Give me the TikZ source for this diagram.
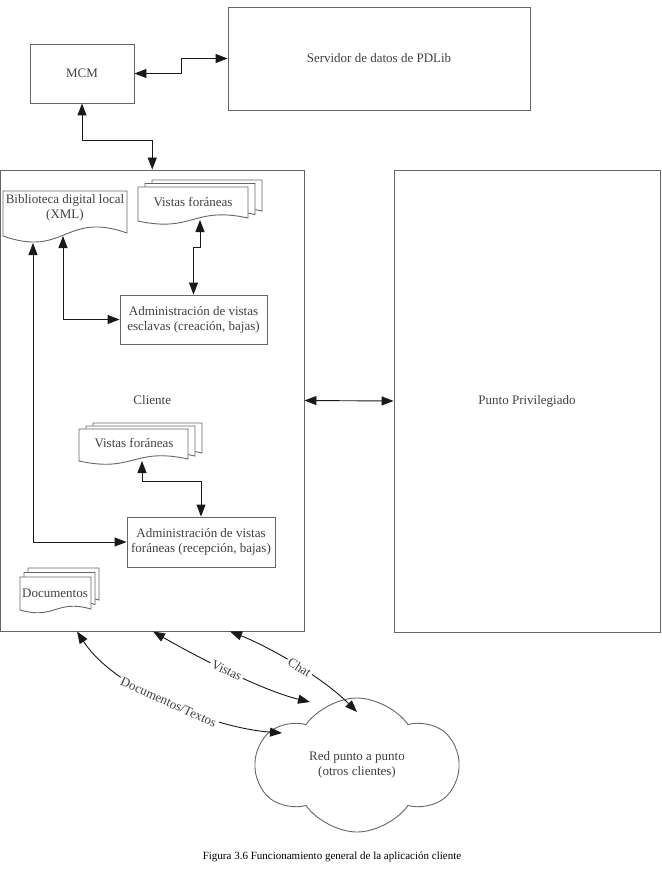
\documentclass[tikz,border=0pt]{standalone}
\usepackage{fontspec}
\setmainfont{Liberation Serif}
\usetikzlibrary{arrows.meta,shapes.symbols,calc}
\newcommand\dtext{\fontsize{13}{15}\selectfont}
\newcommand\docsheet[6]{\path[sheet] (#1,#2) -- (#3,#2) -- (#3,#5) .. controls ({(#1+#3)/2},{#5-#6}) and ({(#1+#3)/2},{#4+#6}) .. (#1,#4) -- cycle;}
\tikzset{
 box/.style={draw=black!60, line width=0.9pt, fill=white, inner sep=0pt, text=black!75, font=\dtext, align=center},
 sheet/.style={draw=black!60, line width=0.9pt, fill=white},
 lbl/.style={text=black!75, font=\dtext, align=center, inner sep=0pt},
 arrlbl/.style={text=black!75, font=\dtext, inner sep=2pt, fill=white, sloped},
 conn/.style={draw=black!90, line width=0.9pt, {Triangle[length=12pt,width=9pt]}-{Triangle[length=12pt,width=9pt]}},
}
\begin{document}
\begin{tikzpicture}[x=1pt,y=-1pt]
\useasboundingbox[fill=white] (0,0) rectangle (661,869);
% main boxes
\node[box, minimum width=302pt, minimum height=103pt] (servidor) at (379,58.5) {Servidor de datos de PDLib};
\node[box, minimum width=104pt, minimum height=59pt] (mcm) at (82,73.5) {MCM};
\node[box, minimum width=303.5pt, minimum height=461pt] (cliente) at (152.25,400.5) {Cliente};
\node[box, minimum width=266pt, minimum height=462pt] (pp) at (527,401) {Punto Privilegiado};
% document sheets
\docsheet{3}{191}{127}{236}{233}{22}
\docsheet{152}{180}{262}{214}{211}{12}
\docsheet{145}{183.5}{255}{217.5}{214.5}{12}
\docsheet{138}{187}{248}{221}{218}{12}
\docsheet{93}{423}{202}{455}{453}{12}
\docsheet{86}{426}{195}{458}{456}{12}
\docsheet{79}{429}{188}{461}{459}{12}
\docsheet{28}{568}{99}{601}{600}{10}
\docsheet{24}{572.5}{95}{605.5}{604.5}{10}
\docsheet{20}{577}{91}{610}{609}{10}
\node[lbl] (bib) at (65,208) {Biblioteca digital local\\(XML)};
\node[lbl] (vistasA) at (193,202) {Vistas foráneas};
\node[lbl] (vistasB) at (134,443) {Vistas foráneas};
\node[lbl] (docs) at (55,593) {Documentos};
% admin boxes
\node[box, minimum width=147pt, minimum height=49pt] (adminE) at (193.5,319.5) {Administración de vistas\\esclavas (creación, bajas)};
\node[box, minimum width=148pt, minimum height=50pt] (adminF) at (201,542) {Administración de vistas\\foráneas (recepción, bajas)};
% cloud
\node[draw=black!60, line width=0.9pt, fill=white, cloud, cloud puffs=6, cloud puff arc=110, aspect=1.5, minimum width=201pt, minimum height=134pt, inner sep=0pt, text=black!75, font=\dtext, align=center] (red) at (357,765) {Red punto a punto\\(otros clientes)};
% attachment points
\coordinate (bibA) at (33,243);
\coordinate (bibB) at (63,236);
\coordinate (vtb) at (200,220);
\coordinate (vlb) at (142,461);
\coordinate (rdoc) at (282,733);
\coordinate (rvis) at (310,702);
\coordinate (rchat) at (357,712);
% connectors
\draw[conn] (mcm.east) -- ++(47,0) |- (servidor.west);
\draw[conn] (mcm.south) -- ++(0,37) -| (cliente.north);
\draw[conn] (cliente.east) -- (pp.west);
\draw[conn] (vtb) -- ++(0,27) -| (adminE.north);
\draw[conn] (bibB) |- (adminE.west);
\draw[conn] (bibA) |- (adminF.west);
\draw[conn] (vlb) -- ++(0,20) -| (adminF.north);
\draw[conn] ($(cliente.south west)+(77,0)$) .. controls (115,690) and (215,728) .. (rdoc) node[arrlbl, pos=0.5] {Documentos/Textos};
\draw[conn] ($(cliente.south west)+(153,0)$) .. controls (190,653) and (260,690) .. (rvis) node[arrlbl, pos=0.5] {Vistas};
\draw[conn] ($(cliente.south west)+(230,0)$) .. controls (265,645) and (320,675) .. (rchat) node[arrlbl, pos=0.55] {Chat};
% caption
\node[font=\fontsize{11}{13}\selectfont, text=black, inner sep=0pt] (cap) at (332,857) {Figura 3.6 Funcionamiento general de la aplicación cliente};
\end{tikzpicture}
\end{document}
